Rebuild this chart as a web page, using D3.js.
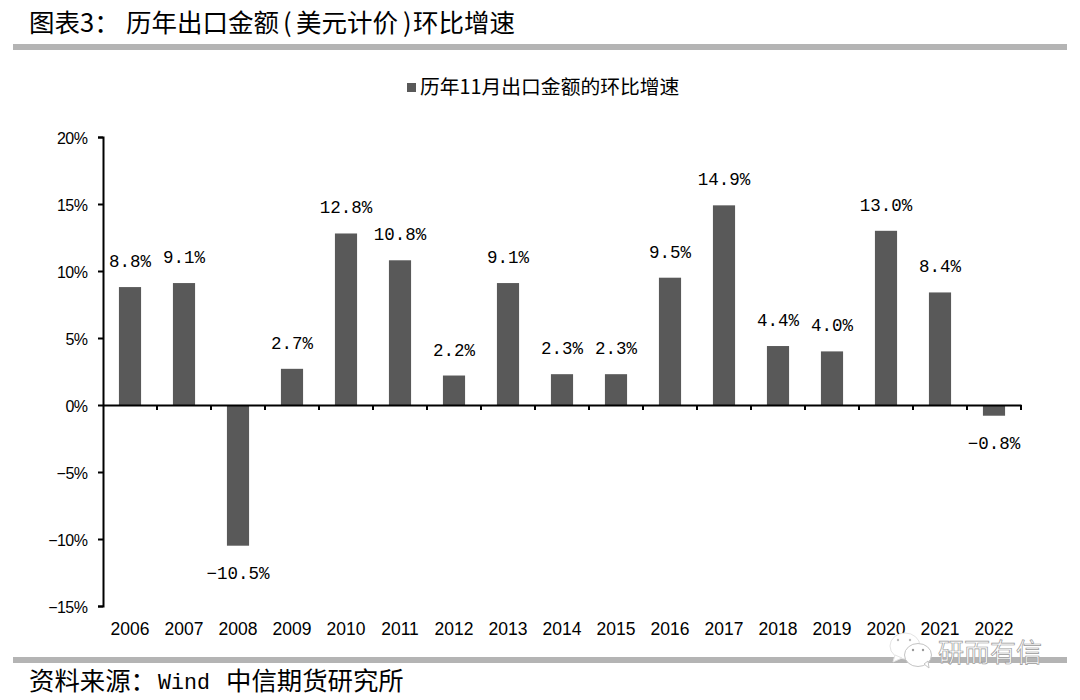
<!DOCTYPE html>
<html>
<head>
<meta charset="utf-8">
<script src="https://cdn.jsdelivr.net/npm/d3@7"></script>
<style>
  html, body { margin: 0; padding: 0; background: #fff; }
  svg { display: block; }
  text { fill: #000; font-family: "Noto Sans CJK SC", sans-serif; }
</style>
</head>
<body>
<script>
// 数据
const years = ["2006","2007","2008","2009","2010","2011","2012","2013","2014","2015","2016","2017","2018","2019","2020","2021","2022"];
const growth = [8.8, 9.1, -10.5, 2.7, 12.8, 10.8, 2.2, 9.1, 2.3, 2.3, 9.5, 14.9, 4.4, 4.0, 13.0, 8.4, -0.8];
const yTicks = [-15, -10, -5, 0, 5, 10, 15, 20];

const width = 1080, height = 700;
const svg = d3.select("body").append("svg").attr("width", width).attr("height", height);

const x = d3.scaleBand().domain(years).range([103, 1021]).paddingInner(0.59).paddingOuter(0.295);
const y = d3.scaleLinear().domain([-15, 20]).range([606, 137]);

// 标题和分隔线
svg.append("text").attr("x", 29).attr("y", 32).attr("font-size", 25.5).text("图表3：");
svg.append("text").attr("x", 126).attr("y", 32).attr("font-size", 25.5).text("历年出口金额");
svg.append("text").attr("x", 283).attr("y", 32).attr("font-size", 25.5).text("(");
svg.append("text").attr("x", 296).attr("y", 32).attr("font-size", 25.5).text("美元计价");
svg.append("text").attr("x", 403).attr("y", 32).attr("font-size", 25.5).text(")");
svg.append("text").attr("x", 413).attr("y", 32).attr("font-size", 25.5).text("环比增速");
svg.append("rect").attr("x", 13).attr("y", 44).attr("width", 1054).attr("height", 6).attr("fill", "#b4b4b4");
svg.append("rect").attr("x", 13).attr("y", 657).attr("width", 1054).attr("height", 6).attr("fill", "#b4b4b4");

// 图例
svg.append("rect").attr("x", 407).attr("y", 83).attr("width", 9).attr("height", 9).attr("fill", "#595959");
svg.append("text").attr("x", 420).attr("y", 94).attr("font-size", 19.8).text("历年11月出口金额的环比增速");

// 柱子
svg.selectAll(".bar").data(growth).enter().append("rect")
  .attr("class", "bar")
  .attr("x", (d, i) => x(years[i]))
  .attr("width", x.bandwidth())
  .attr("y", d => y(Math.max(d, 0)))
  .attr("height", d => Math.abs(y(d) - y(0)))
  .attr("fill", "#595959");

// Y轴
const yAxis = svg.append("g").attr("transform", "translate(103,0)")
  .call(d3.axisLeft(y).tickValues(yTicks).tickSize(5).tickPadding(10.5)
    .tickFormat(d => (d < 0 ? "−" : "") + Math.abs(d) + "%"));
yAxis.selectAll("path, line").attr("stroke", "#000").attr("stroke-width", 2);
yAxis.selectAll("text").attr("font-size", 16).attr("dy", "0.38em")
  .style("font-family", "'Liberation Sans', sans-serif").style("letter-spacing", "-0.5px");

// X轴：零线，刻度在分类边界上，年份放在图底部
const xAxis = svg.append("g").attr("transform", `translate(0,${y(0)})`)
  .call(d3.axisBottom(x).tickSize(0).tickFormat(""));
xAxis.select("path").attr("stroke", "#000").attr("stroke-width", 2);
xAxis.selectAll(".boundary").data(years).enter().append("line")
  .attr("class", "boundary")
  .attr("x1", d => x(d) + x.bandwidth() + x.step() * 0.295)
  .attr("x2", d => x(d) + x.bandwidth() + x.step() * 0.295)
  .attr("y1", 0).attr("y2", 5)
  .attr("stroke", "#000").attr("stroke-width", 2);
svg.append("g").selectAll("text").data(years).enter().append("text")
  .attr("x", d => x(d) + x.bandwidth() / 2)
  .attr("y", 634.5)
  .attr("text-anchor", "middle")
  .attr("font-size", 17.5)
  .style("font-family", "'Liberation Sans', sans-serif")
  .text(d => d);

// 数值标签
svg.append("g").selectAll("text").data(growth).enter().append("text")
  .attr("x", (d, i) => x(years[i]) + x.bandwidth() / 2)
  .attr("y", d => d < 0 ? y(d) + 33 : y(d) - 20)
  .attr("text-anchor", "middle")
  .attr("font-size", 17.5)
  .style("font-family", "'Liberation Mono', monospace")
  .text(d => (d < 0 ? "−" : "") + Math.abs(d).toFixed(1) + "%");

// 来源
svg.append("text").attr("x", 29).attr("y", 690).attr("font-size", 25.4).text("资料来源：");
svg.append("text").attr("x", 158).attr("y", 688.5).attr("font-size", 21.6)
  .style("font-family", "'Liberation Mono', monospace").text("Wind");
svg.append("text").attr("x", 226).attr("y", 690).attr("font-size", 25.4).text("中信期货研究所");

// 水印
const wm = svg.append("g");
wm.append("ellipse").attr("cx", 905).attr("cy", 646).attr("rx", 15).attr("ry", 13).attr("fill", "#fff").attr("stroke", "#e4e4e4");
wm.append("path").attr("d", "M895 655 L893 662 L902 658 Z").attr("fill", "#fff").attr("stroke", "#e4e4e4");
wm.append("ellipse").attr("cx", 918).attr("cy", 655).attr("rx", 13.5).attr("ry", 11.5).attr("fill", "#fff").attr("stroke", "#c4c4c4");
wm.append("path").attr("d", "M924 664 L929 668 L928 661 Z").attr("fill", "#fff").attr("stroke", "#c4c4c4");
wm.selectAll(".eye").data([[898, 640, "#bbb"], [910, 640, "#bbb"], [913, 650, "#999"], [923, 650, "#999"]]).enter().append("circle")
  .attr("class", "eye").attr("cx", d => d[0]).attr("cy", d => d[1]).attr("r", 1.2).attr("fill", d => d[2]);
wm.append("text").attr("x", 938).attr("y", 662).attr("font-size", 26)
  .style("fill", "#fff").style("stroke", "#999").style("stroke-width", 0.7).text("研而有信");
</script>
</body>
</html>
